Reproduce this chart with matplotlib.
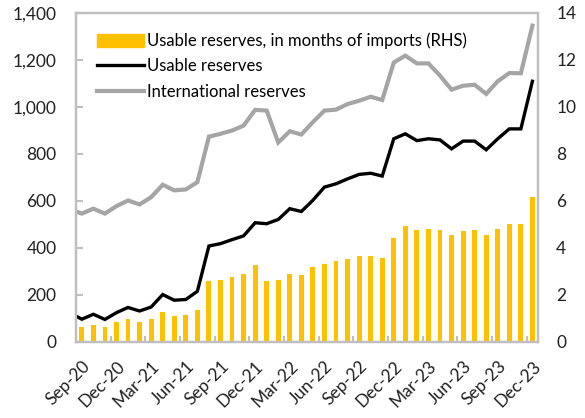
import numpy as np
import matplotlib
matplotlib.use("Agg")
import matplotlib.pyplot as plt
from matplotlib.patches import Patch
from matplotlib.lines import Line2D

plt.rcParams['font.family'] = ['Lato', 'DejaVu Sans']

months = ["Sep-20", "Oct-20", "Nov-20", "Dec-20", "Jan-21", "Feb-21", "Mar-21", "Apr-21",
          "May-21", "Jun-21", "Jul-21", "Aug-21", "Sep-21", "Oct-21", "Nov-21", "Dec-21",
          "Jan-22", "Feb-22", "Mar-22", "Apr-22", "May-22", "Jun-22", "Jul-22", "Aug-22",
          "Sep-22", "Oct-22", "Nov-22", "Dec-22", "Jan-23", "Feb-23", "Mar-23", "Apr-23",
          "May-23", "Jun-23", "Jul-23", "Aug-23", "Sep-23", "Oct-23", "Nov-23", "Dec-23"]

# months of imports (RHS)
usable_months = [0.61, 0.71, 0.61, 0.84, 0.94, 0.84, 0.94, 1.26, 1.08, 1.15,
                 1.36, 2.57, 2.62, 2.74, 2.89, 3.26, 2.57, 2.63, 2.89, 2.85,
                 3.18, 3.32, 3.42, 3.53, 3.63, 3.63, 3.57, 4.43, 4.91, 4.74,
                 4.79, 4.74, 4.54, 4.69, 4.74, 4.54, 4.79, 5.02, 5.02, 6.15]

# Aug-20 first (partly cut by the axis), then Sep-20 .. Dec-23
usable = [121, 95, 116, 94, 123, 145, 130, 147, 200, 176, 179,
          214, 407, 417, 434, 450, 506, 502, 520, 566, 554,
          602, 658, 672, 693, 712, 717, 705, 864, 885, 856,
          864, 859, 821, 854, 854, 817, 864, 906, 906, 1109]
international = [563, 545, 566, 545, 577, 601, 584, 615, 668, 644, 648,
                 679, 873, 885, 899, 920, 987, 984, 848, 896, 882,
                 935, 984, 988, 1012, 1026, 1043, 1029, 1189, 1218, 1185,
                 1185, 1133, 1073, 1090, 1094, 1055, 1109, 1144, 1143, 1346]

x = np.arange(len(months))
xl = np.arange(-1, len(months))

grey = "#BFBFBF"
fig = plt.figure(figsize=(5.85, 4.18), dpi=100)
ax = fig.add_axes([0.130, 0.183, 0.790, 0.786])
ax2 = ax.twinx()

ax2.bar(x, usable_months, width=0.42, color="#FFC000")
ax.plot(xl, international, color="#A5A5A5", lw=3.0, solid_joinstyle="miter")
ax.plot(xl, usable, color="black", lw=2.4, solid_joinstyle="miter")

ax.set_zorder(ax2.get_zorder() + 1)
ax.patch.set_visible(False)

ax.set_xlim(-0.5, len(months) - 0.5)
ax.set_ylim(0, 1400)
ax2.set_ylim(0, 14)
ax.set_yticks(range(0, 1401, 200))
ax.set_yticklabels([f"{v:,}" for v in range(0, 1401, 200)])
ax2.set_yticks(range(0, 15, 2))

ax.set_xticks(x[::3])
ax.set_xticklabels(months[::3], rotation=45, ha="right", rotation_mode="anchor")
ax.set_xticks(np.arange(2.5, len(months) - 1, 3), minor=True)

ax.tick_params(axis="x", which="major", length=0, pad=12, labelsize=12.5, colors="#222222")
ax.tick_params(axis="x", which="minor", direction="in", length=4, width=1.5, color=grey)
ax.tick_params(axis="y", direction="in", length=5, width=1.5, color=grey, pad=14,
               labelsize=12.5, labelcolor="#222222")
ax2.tick_params(axis="y", length=0, pad=13, labelsize=12.5, labelcolor="#222222")

for a in (ax, ax2):
    for s in a.spines.values():
        s.set_color(grey)
        s.set_linewidth(1.6)

handles = [Patch(color="#FFC000"),
           Line2D([], [], color="black", lw=2.4),
           Line2D([], [], color="#A5A5A5", lw=3.0)]
labels = ["Usable reserves, in months of imports (RHS)", "Usable reserves",
          "International reserves"]
ax.legend(handles, labels, loc="upper left", bbox_to_anchor=(0.045, 0.94), frameon=False,
          fontsize=12, handlelength=2.8, handleheight=0.75, handletextpad=0.2,
          labelspacing=0.55, borderpad=0, borderaxespad=0)

fig.savefig("out.png", dpi=100)
